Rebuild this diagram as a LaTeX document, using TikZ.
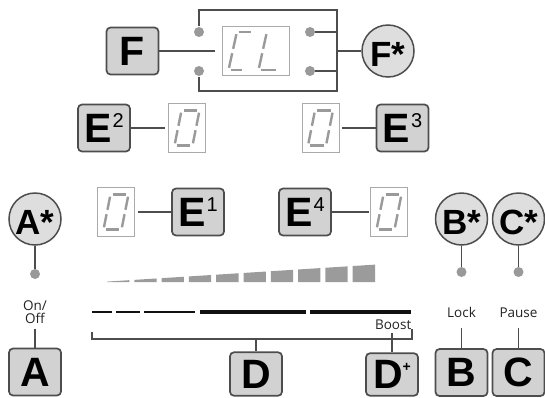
\documentclass[tikz,border=0pt]{standalone}
\usepackage{fontspec}
\setmainfont{Liberation Sans}
\newfontfamily\lblfont{Open Sans}
\definecolor{linec}{HTML}{4D4D4D}
\definecolor{boxfill}{HTML}{D2D2D2}
\definecolor{circfill}{HTML}{DEDEDE}
\definecolor{dotc}{HTML}{999999}
\definecolor{dispc}{HTML}{AAAAAA}
\definecolor{segc}{HTML}{9A9A9A}
\definecolor{barc}{HTML}{9B9B9B}
\definecolor{lblc}{HTML}{222222}
\definecolor{blk}{HTML}{111111}
\newcommand\upnum[1]{\kern1pt\raisebox{14.3pt}{\fontsize{20}{20}\selectfont\mdseries #1}}
\newcommand\plusup{\raisebox{17pt}{\fontsize{14}{14}\selectfont\bfseries +}}
\def\sgG{2.2}
\def\sgsega{\draw[seg] (\sgG,\sgH) -- (\sgW-\sgG,\sgH);}
\def\sgsegb{\draw[seg] (\sgW,\sgH-\sgG) -- (\sgW,\sgH/2+\sgG);}
\def\sgsegc{\draw[seg] (\sgW,\sgH/2-\sgG) -- (\sgW,\sgG);}
\def\sgsegd{\draw[seg] (\sgG,0) -- (\sgW-\sgG,0);}
\def\sgsege{\draw[seg] (0,\sgG) -- (0,\sgH/2-\sgG);}
\def\sgsegf{\draw[seg] (0,\sgH/2+\sgG) -- (0,\sgH-\sgG);}
\def\sgsegg{\draw[seg] (\sgG,\sgH/2) -- (\sgW-\sgG,\sgH/2);}
\newcommand\segdigit[6]{%
  \begin{scope}[shift={(#1,#2)},x=1pt,y=1pt,xslant=#5]
    \def\sgH{#3}\def\sgW{#4}%
    \foreach \s in {#6}{\csname sgseg\s\endcsname}
  \end{scope}}
\begin{document}
\begin{tikzpicture}[x=1pt,y=-1pt,
  conn/.style={draw=linec,line width=1.3pt},
  keybox/.style={draw=linec,fill=boxfill,line width=1.7pt,rounded corners=4pt,minimum width=52pt,minimum height=47pt,inner sep=0pt,font=\fontsize{41}{41}\selectfont\bfseries},
  keycirc/.style={circle,draw=linec,fill=circfill,line width=1.5pt,minimum size=52pt,inner sep=0pt,text height=30pt,text depth=0pt,font=\fontsize{35}{35}\selectfont\bfseries},
  disp/.style={draw=dispc,line width=0.9pt,fill=white,minimum width=37pt,minimum height=49pt,inner sep=0pt},
  dot/.style={circle,fill=dotc,minimum size=10pt,inner sep=0pt},
  lbl/.style={font=\lblfont\fontsize{13.5}{14}\selectfont,text=lblc,inner sep=0pt},
  seg/.style={draw=segc,line width=2.4pt},
  bar/.style={fill=barc},
  levline/.style={draw=blk}]
\useasboundingbox (0,0) rectangle (545,397);

% ---- F / CL / F* ----
\node[keybox] (F) at (132.5,51) {F};
\node[disp,minimum width=67pt] (CL) at (255.5,51) {};
\node[keycirc] (Fs) at (388,51) {F*};
\node[dot] (dl1) at (199,32) {};
\node[dot] (dl2) at (199,71) {};
\node[dot] (dr1) at (310,32) {};
\node[dot] (dr2) at (310,71) {};
\coordinate (fe) at (215,51);
\coordinate (br1) at (337,32);
\coordinate (br2) at (337,71);
\coordinate (bm) at (337,51);
\draw[conn] (F) -- (fe);
\draw[conn] (dr1) -- (br1);
\draw[conn] (dr2) -- (br2);
\draw[conn] (bm) -- (Fs);
\draw[conn] (199,26) -- (199,10) -- (337,10) -- (337,91) -- (199,91) -- (199,77);
\segdigit{228.5}{70}{38}{16}{0.22}{a,d,e,f}
\segdigit{258.5}{70}{38}{20}{0.22}{d,e,f}

% ---- E2 / E3 ----
\node[keybox] (E2) at (104,128) {E\upnum{2}};
\node[disp] (dispE2) at (187,128) {};
\draw[conn,shorten >=3pt] (E2) -- (dispE2);
\node[disp] (dispE3) at (320.5,128) {};
\node[keybox] (E3) at (402.5,128) {E\upnum{3}};
\draw[conn,shorten <=3pt] (dispE3) -- (E3);
\segdigit{174.5}{145.5}{35}{18}{0.2}{a,b,c,d,e,f}
\segdigit{308}{145.5}{35}{18}{0.2}{a,b,c,d,e,f}

% ---- E1 / E4 ----
\node[disp] (dispE1) at (116,212) {};
\node[keybox] (E1) at (198,212) {E\upnum{1}};
\draw[conn,shorten <=3pt] (dispE1) -- (E1);
\node[keybox] (E4) at (305,212) {E\upnum{4}};
\node[disp] (dispE4) at (389,212) {};
\draw[conn,shorten >=1pt] (E4) -- (dispE4);
\segdigit{103.5}{229.5}{35}{18}{0.2}{a,b,c,d,e,f}
\segdigit{376.5}{229.5}{35}{18}{0.2}{a,b,c,d,e,f}

% ---- A ----
\node[keycirc] (As) at (35,219) {A*};
\node[dot] (dA) at (35,274) {};
\draw[conn] (As) -- (dA);
\node[lbl,anchor=base] (tA1) at (35,310) {On/};
\node[lbl,anchor=base] (tA) at (35,323.5) {Off};
\node[keybox] (A) at (35,372) {A};
\draw[conn,shorten <=5.5pt] (tA) -- (A);

% ---- B ----
\node[keycirc] (Bs) at (461.5,219) {B*};
\node[dot] (dB) at (461.5,272) {};
\draw[conn] (Bs) -- (dB);
\node[lbl,anchor=base] (tB) at (461.5,317) {Lock};
\node[keybox] (B) at (461.5,372.5) {B};
\draw[conn,shorten <=11pt] (tB) -- (B);

% ---- C ----
\node[keycirc] (Cs) at (518.5,219) {C*};
\node[dot] (dC) at (518.5,272) {};
\draw[conn] (Cs) -- (dC);
\node[lbl,anchor=base] (tC) at (518.5,317) {Pause};
\node[keybox] (C) at (518.5,372.5) {C};
\draw[conn,shorten <=11pt] (tC) -- (C);

% ---- power level bars ----
\foreach \i in {0,...,9}{
  \pgfmathsetmacro\xa{107+27.3*\i}
  \pgfmathsetmacro\xb{\xa+22.3}
  \pgfmathsetmacro\ya{281.6-(\xa-107)*0.0634}
  \pgfmathsetmacro\yb{281.6-(\xb-107)*0.0634}
  \fill[bar] (\xa,282.2) -- (\xa,\ya) -- (\xb,\yb) -- (\xb,282.2) -- cycle;
}

% ---- level lines ----
\draw[levline,line width=1.6pt] (92,312) -- (112,312);
\draw[levline,line width=1.6pt] (116,312) -- (140,312);
\draw[levline,line width=1.6pt] (144,312) -- (195,312);
\draw[levline,line width=3.3pt] (200,312) -- (306,312);
\draw[levline,line width=4.3pt] (310,312) -- (411,312);
\node[lbl,anchor=base east] (boost) at (411.5,329) {Boost};

% ---- D bracket ----
\draw[conn] (92,332) -- (92,339) -- (412,339) -- (412,329);
\coordinate (dbr) at (256,339);
\coordinate (bt) at (392,333);
\node[keybox,minimum height=43.5pt] (D) at (256,374) {D};
\node[keybox,minimum height=42.5pt] (Dp) at (392,374.5) {D\plusup};
\draw[conn] (dbr) -- (D);
\draw[conn] (bt) -- (Dp);
\end{tikzpicture}
\end{document}
